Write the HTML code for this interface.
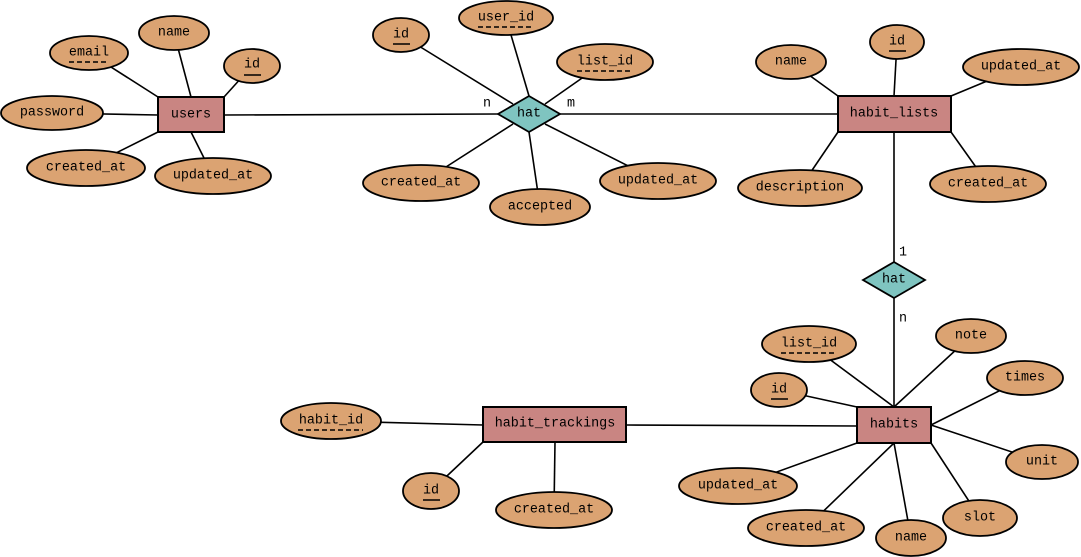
<!DOCTYPE html><html><head><meta charset="utf-8"><style>body{margin:0;background:#fff}svg{display:block}text{font-family:"Liberation Mono",monospace;font-size:13.4px;fill:#000;text-anchor:middle;dominant-baseline:central}</style></head><body>
<svg width="1081" height="557" viewBox="0 0 1081 557">
<g stroke="#000" stroke-width="1.6">
<line x1="224" y1="115" x2="498" y2="114"/><line x1="560" y1="114" x2="838" y2="114"/>
<line x1="158" y1="97" x2="89" y2="53"/><line x1="191" y1="97" x2="174" y2="33"/><line x1="224" y1="97" x2="252" y2="66"/>
<line x1="158" y1="115" x2="52" y2="113"/><line x1="158" y1="132" x2="86" y2="168"/><line x1="191" y1="132" x2="213" y2="176"/>
<line x1="513" y1="104" x2="401" y2="35"/><line x1="529" y1="96" x2="506" y2="18"/><line x1="545" y1="104" x2="605" y2="62"/>
<line x1="513" y1="124" x2="421" y2="183"/><line x1="529" y1="132" x2="540" y2="207"/><line x1="545" y1="124" x2="658" y2="181"/>
<line x1="838" y1="96" x2="791" y2="62"/><line x1="894" y1="96" x2="897" y2="42"/><line x1="951" y1="96" x2="1021" y2="67"/>
<line x1="838" y1="132" x2="800" y2="188"/><line x1="951" y1="132" x2="988" y2="184"/>
<line x1="894" y1="132" x2="894" y2="262"/><line x1="894" y1="298" x2="894" y2="407"/>
<line x1="626" y1="425" x2="857" y2="426"/>
<line x1="894" y1="407" x2="809" y2="344"/><line x1="894" y1="407" x2="971" y2="336"/><line x1="857" y1="407" x2="779" y2="390"/>
<line x1="931" y1="425" x2="1025" y2="378"/><line x1="931" y1="425" x2="1042" y2="462"/><line x1="931" y1="443" x2="980" y2="518"/>
<line x1="894" y1="443" x2="911" y2="538"/><line x1="894" y1="443" x2="806" y2="528"/><line x1="857" y1="443" x2="738" y2="486"/>
<line x1="483" y1="425" x2="331" y2="421"/><line x1="483" y1="442" x2="431" y2="491"/><line x1="555" y1="442" x2="554" y2="510"/>
</g>
<g fill="#dba372" stroke="#000" stroke-width="1.8">
<ellipse cx="89" cy="53" rx="39" ry="17"/><ellipse cx="174" cy="33" rx="35" ry="17"/><ellipse cx="252" cy="66" rx="28" ry="17"/>
<ellipse cx="52" cy="113" rx="51" ry="17"/><ellipse cx="86" cy="168" rx="59" ry="18"/><ellipse cx="213" cy="176" rx="58" ry="18"/>
<ellipse cx="401" cy="35" rx="28" ry="17"/><ellipse cx="506" cy="18" rx="47" ry="17"/><ellipse cx="605" cy="62" rx="48" ry="18"/>
<ellipse cx="421" cy="183" rx="58" ry="18"/><ellipse cx="540" cy="207" rx="50" ry="18"/><ellipse cx="658" cy="181" rx="58" ry="18"/>
<ellipse cx="791" cy="62" rx="35" ry="17"/><ellipse cx="897" cy="42" rx="27" ry="17"/><ellipse cx="1021" cy="67" rx="58" ry="18"/>
<ellipse cx="800" cy="188" rx="62" ry="18"/><ellipse cx="988" cy="184" rx="58" ry="18"/>
<ellipse cx="809" cy="344" rx="47" ry="18"/><ellipse cx="971" cy="336" rx="35" ry="17"/><ellipse cx="779" cy="390" rx="28" ry="17"/>
<ellipse cx="1025" cy="378" rx="38" ry="17"/><ellipse cx="1042" cy="462" rx="36" ry="17"/><ellipse cx="980" cy="518" rx="37" ry="18"/>
<ellipse cx="911" cy="538" rx="35" ry="18"/><ellipse cx="806" cy="528" rx="58" ry="18"/><ellipse cx="738" cy="486" rx="59" ry="18"/>
<ellipse cx="331" cy="421" rx="50" ry="18"/><ellipse cx="431" cy="491" rx="28" ry="18"/><ellipse cx="554" cy="510" rx="58" ry="18"/>
</g>
<g fill="#c98582" stroke="#000" stroke-width="2">
<rect x="158" y="97" width="66" height="35"/><rect x="838" y="96" width="113" height="36"/>
<rect x="857" y="407" width="74" height="36"/><rect x="483" y="407" width="143" height="35"/>
</g>
<g fill="#7fc4c0" stroke="#000" stroke-width="1.8">
<polygon points="498,114 529,96 560,114 529,132"/><polygon points="863,280 894,262 925,280 894,298"/>
</g>
<g stroke="#000" stroke-width="1.6" fill="none">
<line x1="69" y1="62" x2="109" y2="62" stroke-dasharray="5,3"/>
<line x1="244" y1="75" x2="261" y2="75"/><line x1="393" y1="44" x2="410" y2="44"/>
<line x1="478" y1="27" x2="534" y2="27" stroke-dasharray="5,3"/><line x1="577" y1="71" x2="633" y2="71" stroke-dasharray="5,3"/>
<line x1="889" y1="51" x2="906" y2="51"/><line x1="781" y1="353" x2="837" y2="353" stroke-dasharray="5,3"/>
<line x1="771" y1="399" x2="788" y2="399"/><line x1="423" y1="500" x2="440" y2="500"/>
<line x1="298" y1="430" x2="363" y2="430" stroke-dasharray="5,3"/>
</g>
<text x="89" y="53">email</text><text x="174" y="33">name</text><text x="252" y="65">id</text>
<text x="52" y="113">password</text><text x="86" y="168">created_at</text><text x="213" y="176">updated_at</text>
<text x="191" y="115">users</text>
<text x="401" y="35">id</text><text x="506" y="18">user_id</text><text x="605" y="62">list_id</text>
<text x="421" y="183">created_at</text><text x="540" y="207">accepted</text><text x="658" y="181">updated_at</text>
<text x="529" y="114">hat</text><text x="487" y="104">n</text><text x="571" y="104">m</text>
<text x="791" y="62">name</text><text x="897" y="42">id</text><text x="1021" y="67">updated_at</text>
<text x="800" y="188">description</text><text x="988" y="184">created_at</text><text x="894" y="114">habit_lists</text>
<text x="894" y="280">hat</text><text x="903" y="253">1</text><text x="903" y="319">n</text>
<text x="894" y="425">habits</text><text x="809" y="344">list_id</text><text x="971" y="336">note</text><text x="779" y="390">id</text>
<text x="1025" y="378">times</text><text x="1042" y="462">unit</text><text x="980" y="518">slot</text>
<text x="911" y="538">name</text><text x="806" y="528">created_at</text><text x="738" y="486">updated_at</text>
<text x="555" y="424">habit_trackings</text><text x="331" y="421">habit_id</text><text x="431" y="491">id</text><text x="554" y="510">created_at</text>
</svg></body></html>
